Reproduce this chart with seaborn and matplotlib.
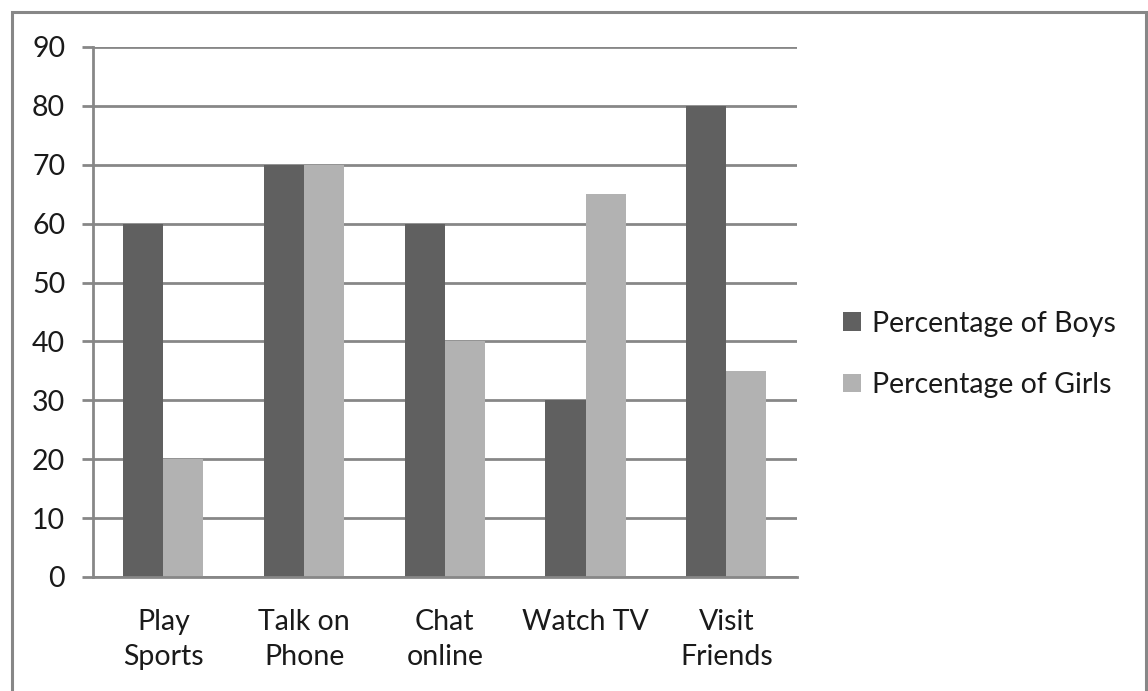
import numpy as np
import pandas as pd
import matplotlib
matplotlib.use("Agg")
import matplotlib.pyplot as plt
import seaborn as sns
from matplotlib.patches import Rectangle

# 数据
categories = ["Play\nSports", "Talk on\nPhone", "Chat\nonline", "Watch TV", "Visit\nFriends"]
boys = [60, 70, 60, 30, 80]
girls = [20, 70, 40, 65, 35]
series_names = ["Percentage of Boys", "Percentage of Girls"]
yticks = list(range(0, 91, 10))

df = pd.DataFrame({
    "activity": categories * 2,
    "value": boys + girls,
    "series": [series_names[0]] * len(categories) + [series_names[1]] * len(categories),
})

sns.set_style("white")
plt.rcParams["font.family"] = ["Lato", "DejaVu Sans"]

grid_col = "#878787"
fs = 20.5
fig = plt.figure(figsize=(11.48, 6.91), dpi=100)
ax = fig.add_axes([0.081, 0.165, 0.613, 0.767])

sns.barplot(data=df, x="activity", y="value", hue="series", order=categories,
            hue_order=series_names, palette=["#606060", "#b2b2b2"],
            width=0.57, gap=0, saturation=1, linewidth=0, ax=ax)

ax.set_ylim(0, 90)
ax.set_xlim(-0.5, len(categories) - 0.5)
ax.set_yticks(yticks)
ax.yaxis.grid(True, color=grid_col, linewidth=2)
ax.set_axisbelow(True)
ax.set_xlabel("")
ax.set_ylabel("")

# 类别边界处的刻度线
ax.set_xticks(np.arange(-0.5, len(categories), 1.0), minor=True)
ax.tick_params(axis="x", which="major", length=0, pad=23, labelsize=fs, labelcolor="#1a1a1a")
ax.tick_params(axis="x", which="minor", length=8, width=2, color=grid_col, direction="out")
ax.tick_params(axis="y", length=8, width=2, color=grid_col, pad=12, labelsize=fs,
               labelcolor="#1a1a1a", left=True)
for lab in ax.get_xticklabels():
    lab.set_linespacing(1.45)

for s in ["top", "right"]:
    ax.spines[s].set_visible(False)
for s in ["left", "bottom"]:
    ax.spines[s].set_color(grid_col)
    ax.spines[s].set_linewidth(2)

leg = ax.legend(loc="center left", bbox_to_anchor=(1.05, 0.42), frameon=False,
                fontsize=fs, handlelength=0.62, handleheight=0.62, handletextpad=0.4,
                labelspacing=1.25, borderaxespad=0)
for t in leg.get_texts():
    t.set_color("#1a1a1a")

# 外框
fig.patches.append(Rectangle((12 / 1148, -0.01), (1146 - 12) / 1148, 1 - 12 / 691 + 0.01,
                             transform=fig.transFigure, fill=False,
                             edgecolor=grid_col, linewidth=2.2))

fig.savefig("out.png", dpi=100)
